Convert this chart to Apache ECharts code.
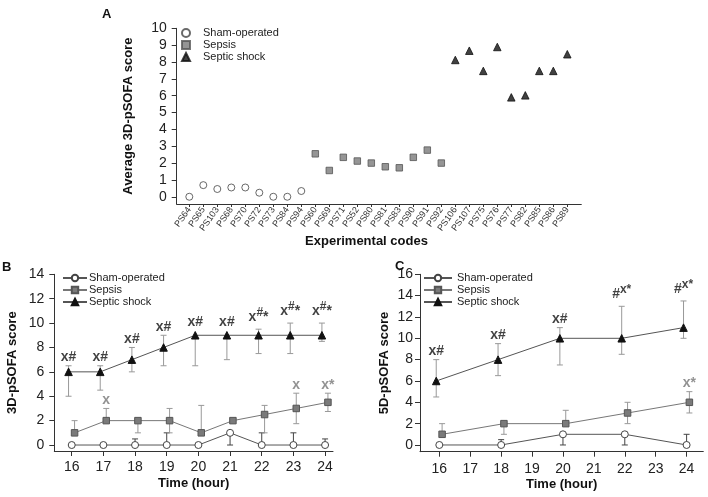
<!DOCTYPE html>
<html>
<head>
<meta charset="utf-8">
<script src="https://cdn.jsdelivr.net/npm/echarts@6/dist/echarts.min.js"></script>
<style>
  html, body { margin: 0; padding: 0; background: #fff; }
  #main { width: 708px; height: 497px; }
</style>
</head>
<body>
<div id="main"></div>
<script>
// panel A: average 3D-pSOFA per animal
var shamCodes = ['PS64', 'PS65', 'PS103', 'PS68', 'PS70', 'PS72', 'PS73', 'PS84', 'PS94'];
var sepsisCodes = ['PS60', 'PS69', 'PS71', 'PS52', 'PS80', 'PS81', 'PS83', 'PS90', 'PS91', 'PS92'];
var shockCodes = ['PS106', 'PS107', 'PS75', 'PS76', 'PS77', 'PS82', 'PS85', 'PS86', 'PS89'];
var shamA = [0, 0.69, 0.46, 0.55, 0.55, 0.24, 0, 0, 0.34];
var sepsisA = [2.55, 1.56, 2.34, 2.12, 2.0, 1.78, 1.72, 2.34, 2.77, 2.0];
var shockA = [8.12, 8.67, 7.47, 8.89, 5.9, 6.02, 7.47, 7.47, 8.46];
var yTicksA = [0, 1, 2, 3, 4, 5, 6, 7, 8, 9, 10];

// panel B: 3D-pSOFA over time (median, upper / lower whisker)
var hoursB = [16, 17, 18, 19, 20, 21, 22, 23, 24];
var shamB = [0, 0, 0, 0, 0, 1, 0, 0, 0];
var shamHiB = [null, null, 0.5, 1, null, null, 1, 1, 0.5];
var shamLoB = [null, null, null, null, null, 0, null, null, null];
var sepsisB = [1, 2, 2, 2, 1, 2, 2.5, 3, 3.5];
var sepsisHiB = [2, 3, null, 3, 3.25, null, 3.25, 4.25, 4.25];
var sepsisLoB = [null, null, 1, 1, null, null, 1, 1.75, 2.75];
var shockB = [6, 6, 7, 8, 9, 9, 9, 9, 9];
var shockHiB = [6.5, 6.5, 8, 9, null, null, 9.5, 10, 10];
var shockLoB = [4, 4.5, 6, 6.5, 6.5, 7, 7.5, 7.5, 8.5];
var sepsisMarkB = [null, 'x', null, null, null, null, null, 'x', 'x*'];
var shockMarkB = ['x#', 'x#', 'x#', 'x#', 'x#', 'x#', 'x{s|#}*', 'x{s|#}*', 'x{s|#}*'];
var yTicksB = [0, 2, 4, 6, 8, 10, 12, 14];

// panel C: 5D-pSOFA over time
var hoursC = [16, 18, 20, 22, 24];
var shamC = [0, 0, 1, 1, 0];
var shamHiC = [null, 0.5, null, null, 1];
var shamLoC = [null, null, 0, 0, null];
var sepsisC = [1, 2, 2, 3, 4];
var sepsisHiC = [2, null, 3.25, 4, 5];
var sepsisLoC = [null, 1, null, 2, 3];
var shockC = [6, 8, 10, 10, 11];
var shockHiC = [8, 9.5, 11, 13, 13.5];
var shockLoC = [4.5, 6.5, 7.5, 8.5, 10];
var sepsisMarkC = [null, null, null, null, 'x*'];
var shockMarkC = ['x#', 'x#', 'x#', '#{s|x*}', '#{s|x*}'];
var yTicksC = [0, 2, 4, 6, 8, 10, 12, 14, 16];
var xTicksBC = [16, 17, 18, 19, 20, 21, 22, 23, 24];

var codes = shamCodes.concat(sepsisCodes, shockCodes);
var codeIdx = codes.map(function (c, i) { return i; });
var font = '"Liberation Sans", Arial, sans-serif';
var axisCol = '#333';

var groups = {
  sham: { label: 'Sham-operated', symbol: 'circle', size: 7, fill: '#fff', border: '#444', line: '#555', err: '#444', dx: 0 },
  sepsis: { label: 'Sepsis', symbol: 'rect', size: 6.5, fill: '#7a7a7a', border: '#555', line: '#777', err: '#999', dx: 0.09 },
  shock: { label: 'Septic shock', symbol: 'triangle', size: 7.5, fill: '#111', border: '#111', line: '#555', err: '#999', dx: -0.1 }
};

function valueAxis(grid, min, max, ticks, margin, extra) {
  var ax = {
    type: 'value', gridIndex: grid, min: min, max: max,
    axisLine: { show: true, onZero: false, lineStyle: { color: axisCol, width: 1 } },
    axisTick: { show: true, length: 5, customValues: ticks, lineStyle: { color: axisCol } },
    axisLabel: { customValues: ticks, color: '#222', fontSize: 14, fontFamily: font, margin: margin },
    splitLine: { show: false },
    nameLocation: 'middle',
    nameMoveOverlap: false,
    nameTextStyle: { fontFamily: font, fontWeight: 'bold', fontSize: 13, color: '#111' }
  };
  for (var k in extra) ax[k] = extra[k];
  return ax;
}

var xAxes = [
  valueAxis(0, -0.9, 28, codeIdx, 4, {
    name: 'Experimental codes', nameGap: 31,
    axisLabel: {
      customValues: codeIdx,
      formatter: function (v) { return codes[v]; },
      rotate: 55, fontSize: 9, color: '#333', fontFamily: font, margin: 4
    },
    axisTick: { show: true, length: 3, customValues: codeIdx, lineStyle: { color: axisCol } }
  }),
  valueAxis(1, 15.45, 24.25, xTicksBC, 9, { name: 'Time (hour)', nameGap: 26 }),
  valueAxis(2, 15.375, 24.54, xTicksBC, 10, { name: 'Time (hour)', nameGap: 26 })
];
xAxes[0].nameTextStyle.padding = [0, 25, 0, 0];

var yAxes = [
  valueAxis(0, -0.43, 10, yTicksA, 10, { name: 'Average 3D-pSOFA score', nameGap: 42, nameRotate: 90 }),
  valueAxis(1, -0.49, 14, yTicksB, 10, { name: '3D-pSOFA score', nameGap: 35, nameRotate: 90 }),
  valueAxis(2, -0.63, 16, yTicksC, 7, { name: '5D-pSOFA score', nameGap: 29, nameRotate: 90 })
];

var series = [];

// panel A scatter
[['sham', shamCodes, shamA], ['sepsis', sepsisCodes, sepsisA], ['shock', shockCodes, shockA]].forEach(function (g) {
  var st = groups[g[0]];
  series.push({
    name: st.label + ' (A)', type: 'scatter', xAxisIndex: 0, yAxisIndex: 0,
    symbol: st.symbol, symbolSize: st.size,
    itemStyle: { color: st.fill, borderColor: st.border, borderWidth: 1 },
    data: g[2].map(function (v, i) { return [codes.indexOf(g[1][i]), v]; })
  });
});

function errorSeries(axis, color, data) {
  return {
    type: 'custom', xAxisIndex: axis, yAxisIndex: axis, z: 1, silent: true,
    encode: { x: 0, y: 1 },
    renderItem: function (params, api) {
      var x = api.value(0);
      var p = api.coord([x, api.value(1)]);
      var kids = [];
      [api.value(2), api.value(3)].forEach(function (e) {
        if (e === null || isNaN(e)) return;
        var q = api.coord([x, e]);
        kids.push({ type: 'line', shape: { x1: p[0], y1: p[1], x2: p[0], y2: q[1] }, style: { stroke: color, lineWidth: 1 } });
        kids.push({ type: 'line', shape: { x1: p[0] - 3, y1: q[1], x2: p[0] + 3, y2: q[1] }, style: { stroke: color, lineWidth: 1 } });
      });
      return { type: 'group', children: kids };
    },
    data: data
  };
}

function addPanel(axis, tag, hours, defs) {
  defs.forEach(function (d) {
    var st = groups[d.key];
    var xs = hours.map(function (h) { return h + st.dx; });
    series.push(errorSeries(axis, st.err, xs.map(function (x, i) {
      return [x, d.val[i], d.hi[i] == null ? NaN : d.hi[i], d.lo[i] == null ? NaN : d.lo[i]];
    })));
    series.push({
      name: st.label + ' (' + tag + ')', type: 'line', xAxisIndex: axis, yAxisIndex: axis, z: 3,
      symbol: st.symbol, symbolSize: st.size, showSymbol: true,
      lineStyle: { color: st.line, width: 1 },
      itemStyle: { color: st.fill, borderColor: st.border, borderWidth: 1 },
      data: xs.map(function (x, i) { return [x, d.val[i]]; })
    });
    if (d.marks) {
      var pts = [];
      d.marks.forEach(function (m, i) {
        if (!m) return;
        var top = d.hi[i] == null ? d.val[i] : d.hi[i];
        pts.push({ value: [xs[i], top, m], label: { distance: d.hi[i] == null ? 6 : 1 } });
      });
      series.push({
        type: 'scatter', xAxisIndex: axis, yAxisIndex: axis, silent: true, z: 4,
        symbolSize: 1, itemStyle: { color: 'transparent' },
        label: {
          show: true, position: 'top',
          formatter: function (p) { return p.data.value[2]; },
          fontFamily: font, fontWeight: 'bold', fontSize: 14, color: d.markColor,
          rich: { s: { fontFamily: font, fontWeight: 'bold', fontSize: 12, color: d.markColor, padding: [0, 0, 9, 0] } }
        },
        data: pts
      });
    }
  });
}

addPanel(1, 'B', hoursB, [
  { key: 'sham', val: shamB, hi: shamHiB, lo: shamLoB },
  { key: 'sepsis', val: sepsisB, hi: sepsisHiB, lo: sepsisLoB, marks: sepsisMarkB, markColor: '#777' },
  { key: 'shock', val: shockB, hi: shockHiB, lo: shockLoB, marks: shockMarkB, markColor: '#111' }
]);
addPanel(2, 'C', hoursC, [
  { key: 'sham', val: shamC, hi: shamHiC, lo: shamLoC },
  { key: 'sepsis', val: sepsisC, hi: sepsisHiC, lo: sepsisLoC, marks: sepsisMarkC, markColor: '#777' },
  { key: 'shock', val: shockC, hi: shockHiC, lo: shockLoC, marks: shockMarkC, markColor: '#111' }
]);

function legendFor(tag, left, top, w, h, textPad) {
  return {
    orient: 'vertical', left: left, top: top, itemWidth: w, itemHeight: h, itemGap: 0,
    padding: 0, selectedMode: false,
    data: ['sham', 'sepsis', 'shock'].map(function (k) { return groups[k].label + ' (' + tag + ')'; }),
    formatter: function (n) { return n.replace(/ \(.\)$/, ''); },
    textStyle: { fontFamily: font, fontSize: 11, color: '#222', lineHeight: 12, padding: [0, 0, 0, textPad] }
  };
}

function panelTitle(t, left, top) {
  return { text: t, left: left, top: top, padding: 0, textStyle: { fontFamily: font, fontWeight: 'bold', fontSize: 13, color: '#111' } };
}

var chart = echarts.init(document.getElementById('main'), null, { renderer: 'canvas' });
chart.setOption({
  animation: false,
  backgroundColor: '#fff',
  title: [panelTitle('A', 102, 8), panelTitle('B', 2, 261), panelTitle('C', 395, 260)],
  grid: [
    { left: 176.7, top: 28.3, width: 404.6, height: 175.7, outerBoundsMode: 'none' },
    { left: 54.3, top: 274.3, width: 278.7, height: 176.7, outerBoundsMode: 'none' },
    { left: 420, top: 274.3, width: 283.3, height: 177.4, outerBoundsMode: 'none' }
  ],
  legend: [
    legendFor('A', 181, 27, 8, 8, 8),
    legendFor('B', 62, 272, 24, 8, -3),
    legendFor('C', 423, 272, 28, 8, 0)
  ],
  xAxis: xAxes,
  yAxis: yAxes,
  series: series
});
</script>
</body>
</html>
